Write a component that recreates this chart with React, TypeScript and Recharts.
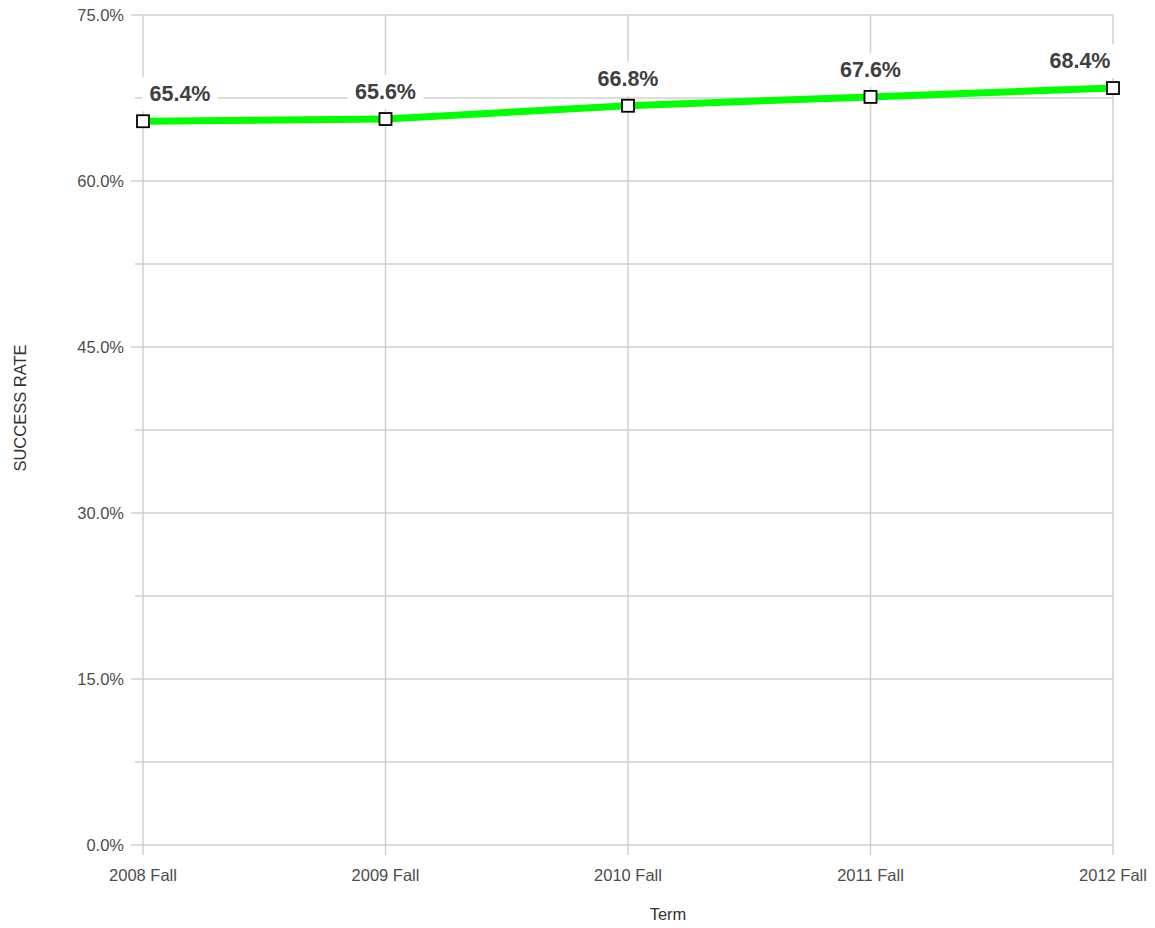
import { CartesianGrid, LabelList, Line, LineChart, XAxis, YAxis } from "recharts";

const terms = ["2008 Fall", "2009 Fall", "2010 Fall", "2011 Fall", "2012 Fall"];
const successRate = [65.4, 65.6, 66.8, 67.6, 68.4];
const yTicks = [0, 7.5, 15, 22.5, 30, 37.5, 45, 52.5, 60, 67.5, 75];

const data = terms.map((term, i) => ({ term, rate: successRate[i] }));

const GRID = "#d0d0d0";
const PLOT_LEFT = 143;

const YTick = (props: any) => {
	const { y, payload } = props;
	const v = payload.value as number;
	const major = v % 15 === 0;
	return (
		<g>
			<line x1={major ? PLOT_LEFT - 12 : PLOT_LEFT - 8} x2={PLOT_LEFT} y1={y} y2={y} stroke={GRID} strokeWidth={1.5} />
			{major && (
				<text x={124} y={y} textAnchor="end" dominantBaseline="central" fontSize={16.5} fill="#4d4d4d">
					{`${v.toFixed(1)}%`}
				</text>
			)}
		</g>
	);
};

const SquareDot = (props: any) => {
	const { cx, cy } = props;
	return <rect x={cx - 6} y={cy - 6} width={12} height={12} fill="#ffffff" stroke="#000000" strokeWidth={1.8} />;
};

const RateLabel = (props: any) => {
	const { x, y, value, index } = props;
	const shift = index === 0 ? 37 : index === terms.length - 1 ? -33 : 0;
	const cx = x + shift;
	const cy = y - 27;
	return (
		<g>
			<rect x={cx - 38} y={cy - 17} width={76} height={34} fill="#ffffff" />
			<text x={cx} y={cy} textAnchor="middle" dominantBaseline="central" fontSize={21.5} fontWeight="bold" fill="#404040">
				{`${value.toFixed(1)}%`}
			</text>
		</g>
	);
};

export default function App() {
	return (
		<div style={{ position: "absolute", left: 0, top: 0, fontFamily: "'Liberation Sans', Arial, sans-serif" }}>
			<LineChart width={1155} height={928} data={data} margin={{ top: 15, right: 42, left: 0, bottom: 0 }}>
				<CartesianGrid stroke={GRID} strokeWidth={1.5} horizontalValues={yTicks} />
				<XAxis
					dataKey="term"
					height={83}
					axisLine={false}
					tickLine={{ stroke: GRID, strokeWidth: 1.5 }}
					tickSize={10}
					tickMargin={14}
					tick={{ fontSize: 16.5, fill: "#4d4d4d" }}
					interval={0}
					label={{ value: "Term", position: "insideBottom", offset: 8, dx: 40, fontSize: 16.5, fill: "#333333" }}
				/>
				<YAxis
					width={143}
					domain={[0, 75]}
					ticks={yTicks}
					axisLine={false}
					tickLine={false}
					tick={<YTick />}
					interval={0}
					label={{
						content: () => (
							<text
								x={20}
								y={408}
								transform="rotate(-90 20 408)"
								textAnchor="middle"
								dominantBaseline="central"
								fontSize={16.5}
								fill="#333333"
							>
								SUCCESS RATE
							</text>
						),
					}}
				/>
				<Line
					dataKey="rate"
					stroke="#00ff00"
					strokeWidth={7}
					dot={<SquareDot />}
					activeDot={false}
					isAnimationActive={false}
				>
					<LabelList dataKey="rate" content={<RateLabel />} />
				</Line>
			</LineChart>
		</div>
	);
}
